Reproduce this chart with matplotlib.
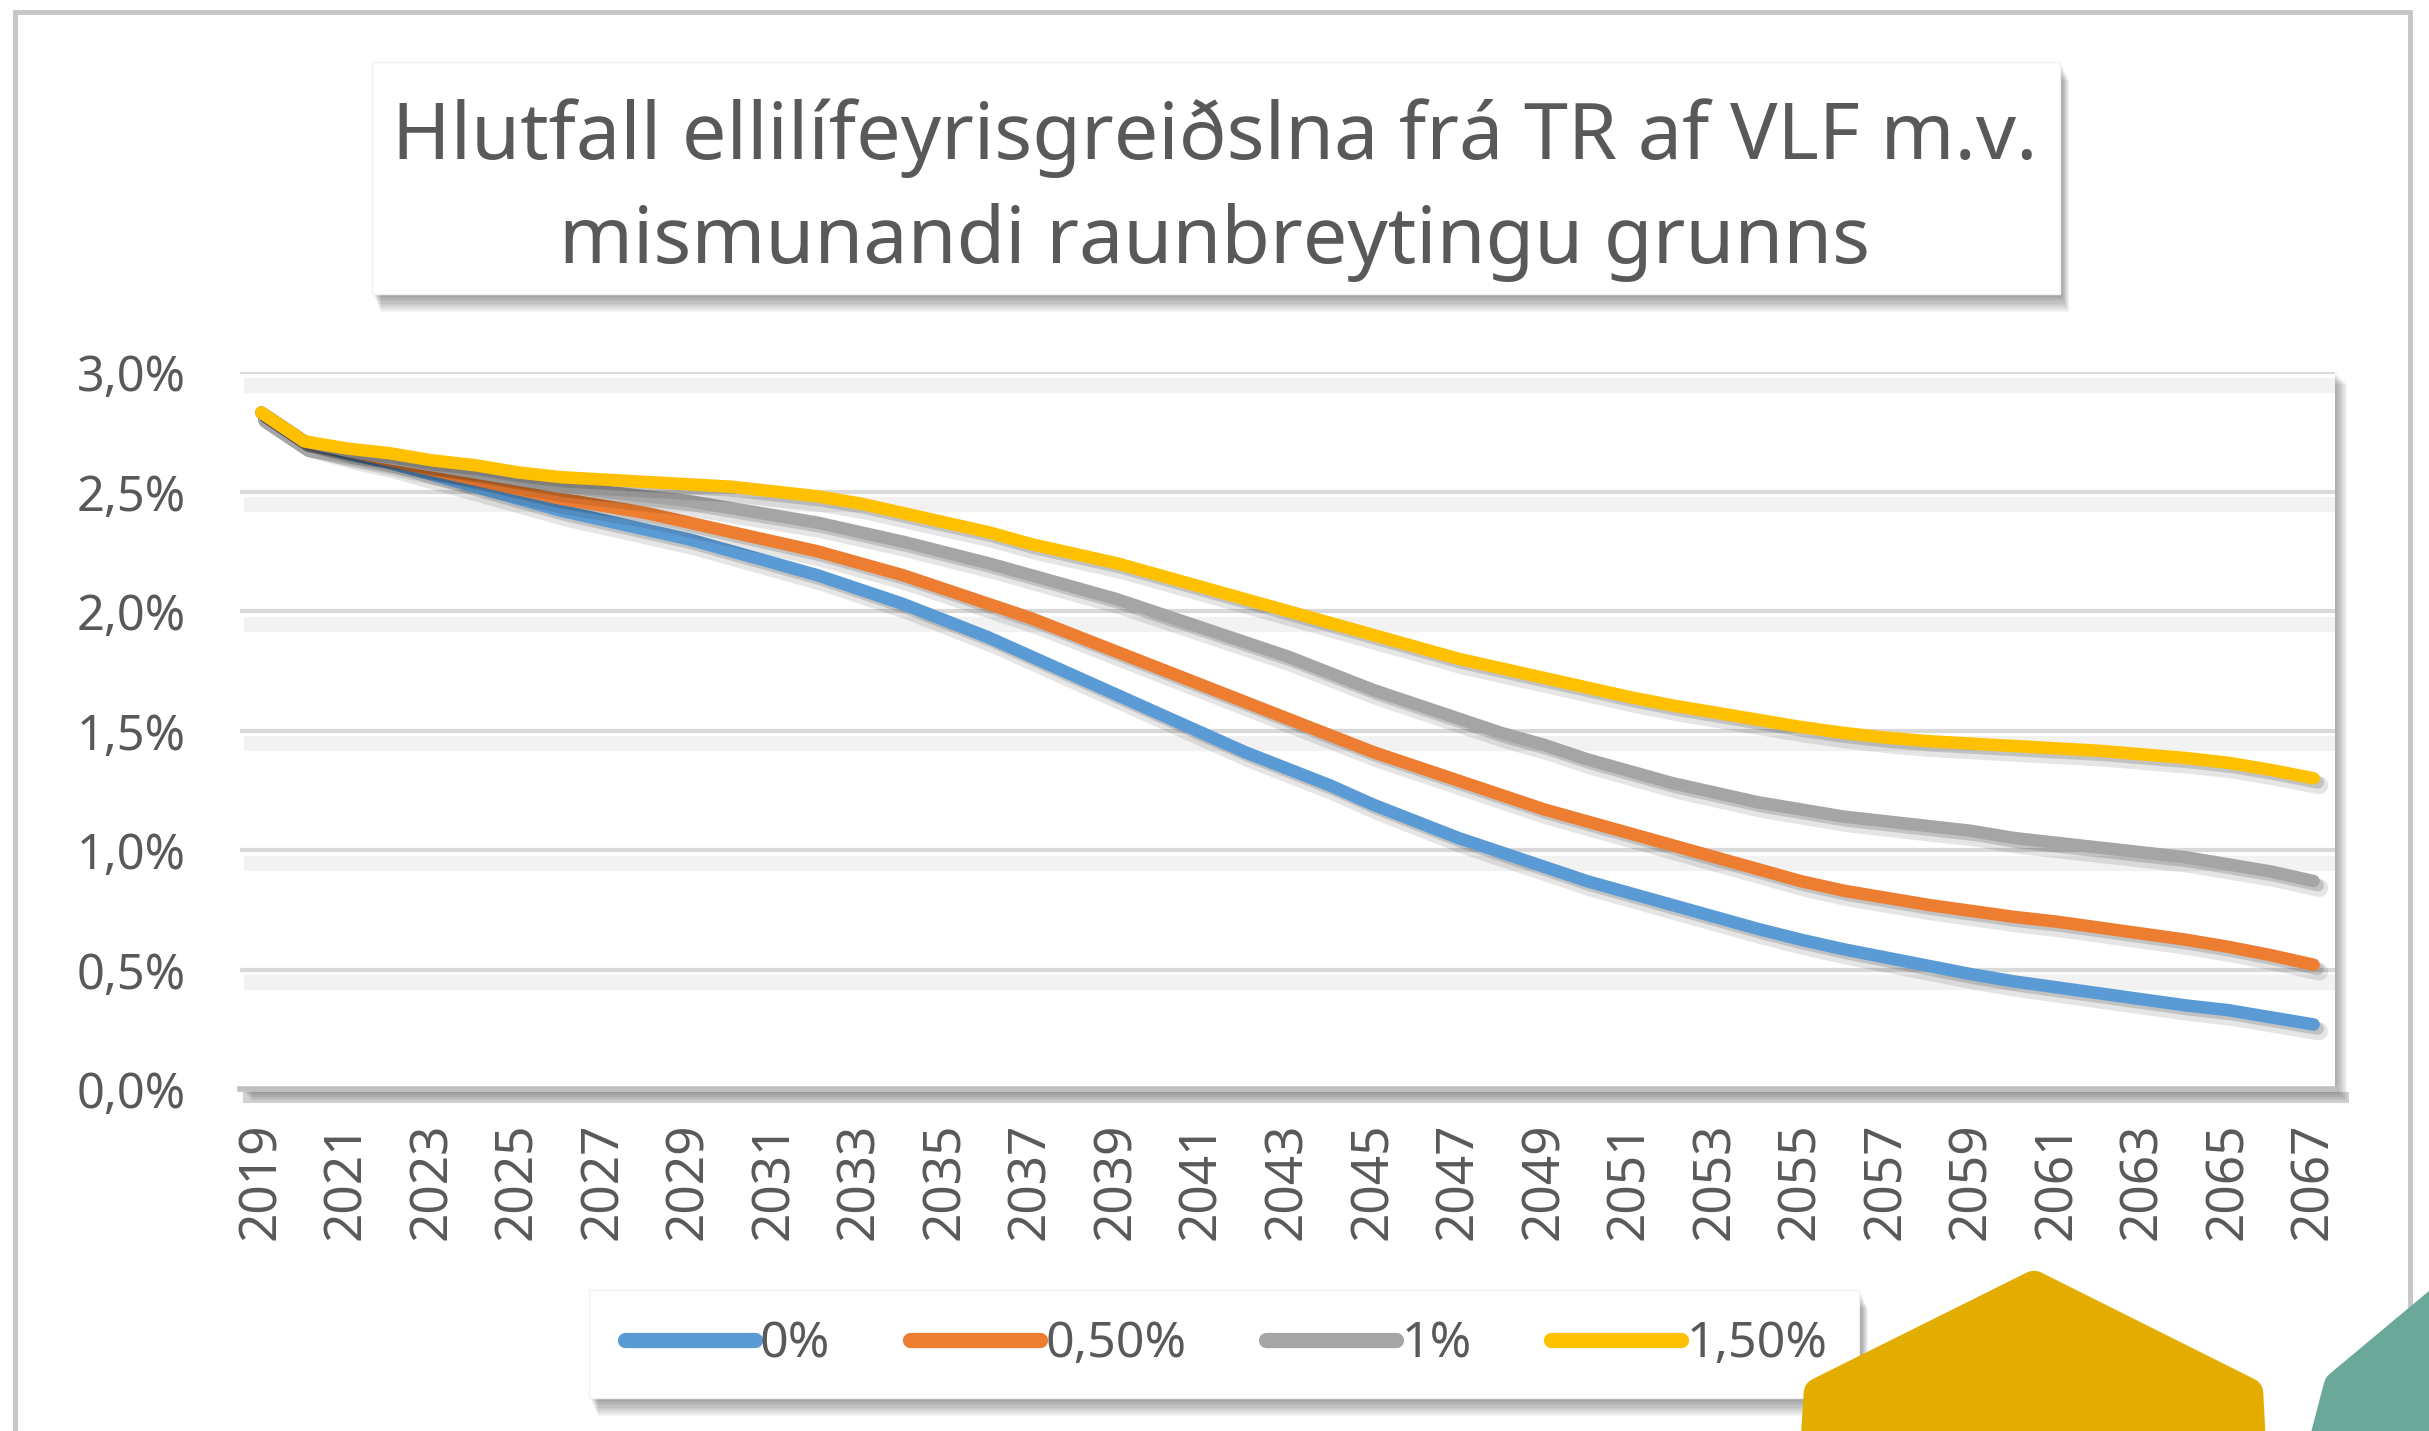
import matplotlib
matplotlib.use('Agg')
import matplotlib.pyplot as plt
import matplotlib.patheffects as pe
from matplotlib.patches import Rectangle, Polygon
from matplotlib.lines import Line2D

#%%
# Data (share of GDP, %)
years = list(range(2019, 2068))

growth_0 = [2.83, 2.71, 2.66, 2.62, 2.57, 2.52, 2.47, 2.42, 2.38, 2.34,
            2.30, 2.25, 2.20, 2.15, 2.09, 2.03, 1.96, 1.89, 1.81, 1.73,
            1.65, 1.57, 1.49, 1.41, 1.34, 1.27, 1.19, 1.12, 1.05, 0.99,
            0.93, 0.87, 0.82, 0.77, 0.72, 0.67, 0.625, 0.585, 0.55, 0.515,
            0.48, 0.45, 0.425, 0.40, 0.375, 0.35, 0.33, 0.30, 0.27]

growth_050 = [2.83, 2.71, 2.67, 2.63, 2.59, 2.55, 2.51, 2.47, 2.44, 2.41,
              2.37, 2.33, 2.29, 2.25, 2.20, 2.15, 2.09, 2.03, 1.97, 1.90,
              1.83, 1.76, 1.69, 1.62, 1.55, 1.48, 1.41, 1.35, 1.29, 1.23,
              1.17, 1.12, 1.07, 1.02, 0.97, 0.92, 0.87, 0.83, 0.80, 0.77,
              0.745, 0.72, 0.70, 0.675, 0.65, 0.625, 0.595, 0.56, 0.52]

growth_1 = [2.83, 2.71, 2.67, 2.64, 2.61, 2.58, 2.55, 2.52, 2.50, 2.48,
            2.46, 2.43, 2.40, 2.37, 2.33, 2.29, 2.245, 2.20, 2.15, 2.10,
            2.05, 1.99, 1.93, 1.87, 1.81, 1.74, 1.67, 1.61, 1.55, 1.49,
            1.44, 1.38, 1.33, 1.28, 1.24, 1.20, 1.17, 1.14, 1.12, 1.10,
            1.08, 1.05, 1.03, 1.01, 0.99, 0.97, 0.94, 0.91, 0.87]

growth_150 = [2.83, 2.71, 2.68, 2.66, 2.63, 2.61, 2.58, 2.56, 2.55, 2.54,
              2.53, 2.52, 2.50, 2.48, 2.45, 2.41, 2.37, 2.33, 2.28, 2.24,
              2.20, 2.15, 2.10, 2.05, 2.00, 1.95, 1.90, 1.85, 1.80, 1.76,
              1.72, 1.68, 1.64, 1.605, 1.575, 1.545, 1.515, 1.49, 1.47, 1.455,
              1.445, 1.435, 1.425, 1.415, 1.40, 1.385, 1.365, 1.335, 1.30]

series = [growth_0, growth_050, growth_1, growth_150]
series_labels = ['0%', '0,50%', '1%', '1,50%']
colors = ['#5B9BD5', '#ED7D31', '#A5A5A5', '#FFC000']

title_lines = ['Hlutfall ellilífeyrisgreiðslna frá TR af VLF m.v.',
               'mismunandi raunbreytingu grunns']
y_ticks = [0.0, 0.5, 1.0, 1.5, 2.0, 2.5, 3.0]
x_ticks = list(range(2019, 2068, 2))

#%%
W, H = 2429, 1431
TXT = '#595959'
plt.rcParams['font.family'] = ['Noto Sans', 'DejaVu Sans']

fig = plt.figure(figsize=(W / 100, H / 100), dpi=100)
fig.patch.set_facecolor('white')


def fx(x):
    return x / W


def fy(y):
    return 1 - y / H


def shadow_box(x0, y0, x1, y1, z=2, steps=8):
    # soft drop shadow, bottom-right, then the white box on top
    for k in range(steps):
        off = 3 + 2.2 * k
        fig.add_artist(Rectangle((fx(x0 + off * 0.5), fy(y1 + off)),
                                 (x1 - x0) / W, (y1 - y0) / H,
                                 transform=fig.transFigure, facecolor='black',
                                 edgecolor='none', alpha=0.05, zorder=z))
    fig.add_artist(Rectangle((fx(x0), fy(y1)), (x1 - x0) / W, (y1 - y0) / H,
                             transform=fig.transFigure, facecolor='white',
                             edgecolor='#F2F2F2', lw=1, zorder=z + 0.5))


# outer frame
fig.add_artist(Rectangle((fx(15), fy(1470)), (2410 - 15) / W, (1470 - 12) / H,
                         transform=fig.transFigure, fill=False,
                         edgecolor='#C6C6C6', lw=3.5, zorder=-5))

# plot area shadow
px0, py0, px1, py1 = 240, 372, 2335, 1089
for k in range(6):
    off = 2 + 2 * k
    fig.add_artist(Rectangle((fx(px0 + off), fy(py1 + off)),
                             (px1 - px0) / W, (py1 - py0) / H,
                             transform=fig.transFigure, facecolor='black',
                             edgecolor='none', alpha=0.06, zorder=-1))

ax = fig.add_axes([fx(px0), fy(py1), (px1 - px0) / W, (py1 - py0) / H])
ax.set_facecolor('white')
ax.set_xlim(2018.5, 2067.5)
ax.set_ylim(0, 3.0)

for s in ['top', 'right', 'left', 'bottom']:
    ax.spines[s].set_visible(False)

# gridlines with the Excel style shadow
grid_fx = [pe.SimpleLineShadow(offset=(8, -9), shadow_color='black',
                               alpha=0.05, linewidth=11), pe.Normal()]
for v in y_ticks[1:]:
    ax.axhline(v, color='#D9D9D9', lw=3, zorder=1, path_effects=grid_fx)
ax.axhline(0, color='#BFBFBF', lw=4, zorder=1, clip_on=False,
           path_effects=[pe.SimpleLineShadow(offset=(6, -6), shadow_color='black',
                                             alpha=0.18, linewidth=8), pe.Normal()])

line_fx = [pe.SimpleLineShadow(offset=(4, -5), shadow_color='black', alpha=0.10,
                               linewidth=13),
           pe.SimpleLineShadow(offset=(3, -3), shadow_color='black', alpha=0.15),
           pe.Normal()]
for vals, c, lab in zip(series, colors, series_labels):
    ax.plot(years, vals, color=c, lw=9, solid_capstyle='round',
            solid_joinstyle='round', label=lab, zorder=3, path_effects=line_fx)

ax.set_yticks(y_ticks)
ax.set_yticklabels([f'{v:.1f}'.replace('.', ',') + '%' for v in y_ticks])
ax.set_xticks(x_ticks)
ax.set_xticklabels([str(y) for y in x_ticks], rotation=90)
ax.tick_params(axis='y', length=0, pad=39, labelsize=35, labelcolor=TXT)
ax.tick_params(axis='x', length=0, pad=24, labelsize=37, labelcolor=TXT)

#%%
# title box
shadow_box(372, 62, 2060, 294)
fig.text(0.5, fy(138), title_lines[0], ha='center', va='center',
         fontsize=57, color=TXT, zorder=4)
fig.text(0.5, fy(242), title_lines[1], ha='center', va='center',
         fontsize=57, color=TXT, zorder=4)

# legend box
shadow_box(589, 1290, 1859, 1398, z=4)
handles = [Line2D([], [], color=c, lw=11, solid_capstyle='round') for c in colors]
leg = fig.legend(handles, series_labels, loc='center',
                 bbox_to_anchor=(fx(1226), fy(1344)), ncol=4, frameon=False,
                 fontsize=36, handlelength=2.6, handletextpad=0.1,
                 columnspacing=1.6, labelcolor=TXT)
leg.set_zorder(6)

# decorative shapes, bottom right
fig.add_artist(Polygon([(fx(2034), fy(1286)), (fx(2248), fy(1393)),
                        (fx(2252), fy(1470)), (fx(1814), fy(1470)),
                        (fx(1819), fy(1393))], closed=True,
                       transform=fig.transFigure, facecolor='#E3AD00',
                       edgecolor='#E3AD00', lw=22, joinstyle='round', zorder=7))
fig.add_artist(Polygon([(fx(2317), fy(1470)), (fx(2339), fy(1386)),
                        (fx(2460), fy(1285)), (fx(2520), fy(1470))], closed=True,
                       transform=fig.transFigure, facecolor='#6AA89A',
                       edgecolor='#6AA89A', lw=22, joinstyle='round', zorder=7))

fig.savefig('out.png', dpi=100, facecolor='white')
